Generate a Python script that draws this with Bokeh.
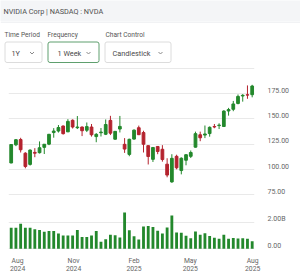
from bokeh.plotting import figure
from bokeh.layouts import column
from bokeh.models import (Range1d, FixedTicker, LinearAxis, Grid, ColumnDataSource,
                          NumeralTickFormatter, Label, BoxAnnotation)
from bokeh.embed import file_html
from bokeh.resources import INLINE

# ---------------- data (weekly NVDA, Aug 2024 - Aug 2025) ----------------
weeks = ["2024-08-12", "2024-08-19", "2024-08-26", "2024-09-03", "2024-09-09", "2024-09-16",
         "2024-09-23", "2024-09-30", "2024-10-07", "2024-10-14", "2024-10-21", "2024-10-28",
         "2024-11-04", "2024-11-11", "2024-11-18", "2024-11-25", "2024-12-02", "2024-12-09",
         "2024-12-16", "2024-12-23", "2024-12-30", "2025-01-06", "2025-01-13", "2025-01-21",
         "2025-01-27", "2025-02-03", "2025-02-10", "2025-02-18", "2025-02-24", "2025-03-03",
         "2025-03-10", "2025-03-17", "2025-03-24", "2025-03-31", "2025-04-07", "2025-04-14",
         "2025-04-21", "2025-04-28", "2025-05-05", "2025-05-12", "2025-05-19", "2025-05-27",
         "2025-06-02", "2025-06-09", "2025-06-16", "2025-06-23", "2025-06-30", "2025-07-07",
         "2025-07-14", "2025-07-21", "2025-07-28", "2025-08-04"]
opens = [106.3, 124.3, 129.6, 116.0, 104.9, 116.8, 116.5, 121.8, 125.0, 136.5, 138.0, 143.0,
         137.2, 148.7, 141.3, 142.0, 138.8, 142.0, 132.5, 136.3, 134.8, 148.6, 129.9, 140.0,
         124.8, 114.8, 130.0, 141.3, 136.5, 123.5, 109.9, 122.7, 119.9, 105.1, 87.5, 112.9,
         98.8, 109.0, 112.9, 122.0, 134.3, 134.0, 135.5, 142.5, 143.4, 142.5, 157.9, 159.6,
         165.4, 172.8, 174.0, 174.1]
highs = [125.0, 130.0, 131.3, 117.0, 119.8, 121.0, 127.7, 125.0, 135.0, 140.9, 144.0, 143.5,
         149.8, 149.6, 152.9, 142.5, 146.5, 145.0, 136.0, 141.0, 149.5, 153.1, 138.0, 153.0,
         131.0, 130.4, 139.6, 143.4, 138.3, 123.7, 121.7, 122.9, 124.0, 111.0, 115.0, 114.5,
         111.9, 114.9, 118.7, 137.4, 137.4, 143.5, 142.6, 145.0, 145.7, 158.7, 161.0, 167.9,
         174.3, 174.7, 183.3, 183.9]
lows = [106.0, 123.0, 116.7, 101.0, 103.7, 112.0, 115.7, 115.2, 124.0, 131.4, 136.5, 134.5,
        137.0, 140.5, 140.0, 133.0, 137.0, 132.5, 126.9, 132.6, 134.0, 134.0, 129.5, 136.6,
        116.3, 113.0, 129.5, 134.0, 116.7, 104.8, 107.3, 115.0, 107.6, 92.1, 86.6, 100.0,
        95.0, 104.0, 111.2, 121.6, 127.9, 131.0, 132.4, 140.8, 140.0, 142.0, 153.3, 157.7,
        164.5, 167.2, 170.0, 171.5]
closes = [124.6, 129.4, 119.4, 102.8, 119.1, 116.0, 121.4, 124.9, 134.8, 138.0, 141.5, 135.4,
          147.6, 142.0, 142.0, 138.3, 142.4, 134.3, 134.7, 137.0, 144.5, 135.9, 137.7, 142.6,
          120.1, 129.8, 138.9, 134.4, 124.9, 112.7, 121.7, 117.7, 109.7, 94.3, 110.9, 101.5,
          111.0, 114.5, 116.7, 135.4, 131.3, 135.1, 141.7, 142.0, 143.9, 157.8, 159.3, 164.9,
          172.4, 173.5, 173.7, 182.7]
volumes = [1.58e9, 1.58e9, 1.89e9, 1.58e9, 1.58e9, 1.46e9, 1.41e9, 1.28e9, 1.33e9, 1.33e9,
           1.15e9, 1.00e9, 1.00e9, 1.00e9, 1.41e9, 0.89e9, 0.89e9, 1.00e9, 1.33e9, 0.53e9,
           0.72e9, 1.06e9, 1.02e9, 0.84e9, 2.72e9, 1.40e9, 0.95e9, 0.70e9, 1.67e9, 1.72e9,
           1.64e9, 1.36e9, 1.15e9, 1.60e9, 2.50e9, 1.22e9, 1.20e9, 0.98e9, 0.80e9, 1.30e9,
           1.05e9, 1.17e9, 0.97e9, 0.83e9, 0.75e9, 1.05e9, 0.75e9, 0.81e9, 0.77e9, 0.80e9,
           0.75e9, 0.56e9]
price_ticks = [75, 100, 125, 150, 175]
price_grid = [75, 100, 125, 150, 175, 200]
volume_ticks = [0, 2e9]
volume_labels = ["0.00", "2.00B"]
month_tick_pos = [1.35, 13.2, 26.0, 37.9, 51.1]
month_labels = ["Aug\n2024", "Nov\n2024", "Feb\n2025", "May\n2025", "Aug\n2025"]

title_text = "NVIDIA Corp | NASDAQ : NVDA"
control_labels = ["Time Period", "Frequency", "Chart Control"]
control_values = ["1Y", "1 Week", "Candlestick"]

GREEN = "#23882c"
RED = "#b4232e"
GRID = "#e9e9e9"
FONT = "Roboto"
BL, BR = 8, 46          # side borders of the chart panes


def pane(h, xr, yr, **kw):
    return figure(width=300, height=h, x_range=xr, y_range=yr,
                  min_border_left=BL, min_border_right=BR,
                  outline_line_color=None, toolbar_location=None, output_backend="svg", **kw)


def strip(h, yr):
    f = figure(width=300, height=h, x_range=Range1d(0, 300), y_range=yr,
               x_axis_location=None, y_axis_location=None, min_border=0,
               min_border_left=0, min_border_right=0, min_border_top=0, min_border_bottom=0,
               outline_line_color=None, toolbar_location=None, output_backend="svg")
    f.frame_align = False
    f.xgrid.visible = False
    f.ygrid.visible = False
    return f


# ---------------- header ----------------
hf = strip(21, Range1d(21, 0))
hf.background_fill_color = "#f4f5f7"
hf.border_fill_color = "#f4f5f7"
hf.add_layout(Label(x=3, y=10.5, text=title_text, text_font=FONT, text_font_size="7.3px",
                    text_baseline="middle", text_color="#505050"))

# ---------------- controls ----------------
cf = strip(45, Range1d(66, 21))
cf.add_layout(BoxAnnotation(left=0, right=300, top=21, bottom=22, fill_color="#e3e5ea",
                            fill_alpha=1, line_color=None))
lab_x = [4, 47, 105]
for lx, lt in zip(lab_x, control_labels):
    cf.add_layout(Label(x=lx, y=34, text=lt, text_font=FONT, text_font_size="6.6px",
                        text_baseline="middle", text_color="#555555"))
box_l = [4.5, 47.5, 104.5]
box_r = [41.5, 98.5, 170.5]
box_c = ["#dcdcdc", "#5f9f6e", "#dcdcdc"]
for bl, br, bc in zip(box_l, box_r, box_c):
    cf.add_layout(BoxAnnotation(left=bl, right=br, top=41.5, bottom=62, fill_color="white",
                                fill_alpha=1, line_color=bc, line_alpha=1, line_width=1,
                                border_radius=2))
val_x = [11, 57, 112]
for vx, vt in zip(val_x, control_values):
    cf.add_layout(Label(x=vx, y=52.5, text=vt, text_font=FONT, text_font_size="7.3px",
                        text_baseline="middle", text_color="#4a4a4a"))
chev_x = [31.5, 88, 160]
xs = [[cx - 2, cx, cx + 2] for cx in chev_x]
ys = [[51.5, 53.5, 51.5] for _ in chev_x]
cf.multi_line(xs=xs, ys=ys, line_color="#8a8a8a", line_width=1, level="overlay")

# ---------------- price pane ----------------
idx = list(range(len(opens)))
colors = [GREEN if c >= o else RED for o, c in zip(opens, closes)]
src = ColumnDataSource(dict(
    x=idx, o=opens, h=highs, l=lows, c=closes,
    top=[max(o, c) for o, c in zip(opens, closes)],
    bot=[min(o, c) for o, c in zip(opens, closes)],
    col=colors, vol=volumes))

xr = Range1d(-0.57, 51.49)
p_lo, p_hi = 73.0, 202.1
pf = pane(130, xr, Range1d(p_lo, p_hi), x_axis_location=None, y_axis_location=None,
          min_border_top=0, min_border_bottom=0)
pf.xgrid.visible = False
pf.ygrid.visible = False
pf.add_layout(Grid(dimension=1, ticker=FixedTicker(ticks=price_grid), grid_line_color=GRID))
d = 3.2
pf.extra_y_ranges = {"lbl": Range1d(p_lo - d, p_hi - d)}
pax = LinearAxis(y_range_name="lbl", ticker=FixedTicker(ticks=price_ticks),
                 formatter=NumeralTickFormatter(format="0.00"),
                 axis_line_color=None, major_tick_line_color=None, minor_tick_line_color=None,
                 major_label_text_font_size="7px", major_label_text_color="#666666",
                 major_label_text_font=FONT, major_label_standoff=7)
pf.add_layout(pax, "right")
pf.segment(x0="x", y0="l", x1="x", y1="h", color="col", line_width=1, source=src)
pf.vbar(x="x", top="top", bottom="bot", width=0.58, fill_color="col", line_color="col",
        line_width=1, source=src)

# ---------------- volume pane ----------------
v_lo, v_hi = -0.053e9, 3.93e9
vf = pane(80, xr, Range1d(v_lo, v_hi), y_axis_location=None,
          min_border_top=0, min_border_bottom=27)
vf.xgrid.visible = False
vf.ygrid.visible = False
vf.add_layout(Grid(dimension=1, ticker=FixedTicker(ticks=volume_ticks), grid_line_color=GRID))
dv = 0.225e9
vf.extra_y_ranges = {"lbl": Range1d(v_lo - dv, v_hi - dv)}
vax = LinearAxis(y_range_name="lbl", ticker=FixedTicker(ticks=volume_ticks),
                 major_label_overrides={t: s for t, s in zip(volume_ticks, volume_labels)},
                 axis_line_color=None, major_tick_line_color=None, minor_tick_line_color=None,
                 major_label_text_font_size="7px", major_label_text_color="#666666",
                 major_label_text_font=FONT, major_label_standoff=7)
vf.add_layout(vax, "right")
vf.vbar(x="x", top="vol", bottom=0, width=0.6, fill_color=GREEN, line_color=None, source=src)

xa = vf.xaxis[0]
xa.ticker = FixedTicker(ticks=month_tick_pos)
xa.major_label_overrides = {t: s for t, s in zip(month_tick_pos, month_labels)}
xa.axis_line_color = None
xa.major_tick_line_color = None
xa.minor_tick_line_color = None
xa.major_label_text_font_size = "6.8px"
xa.major_label_text_color = "#666666"
xa.major_label_text_font = FONT
xa.major_label_text_line_height = 1.05
xa.major_label_standoff = 1

layout = column(hf, cf, pf, vf, spacing=0)
open("out.html", "w").write(file_html(layout, INLINE))
